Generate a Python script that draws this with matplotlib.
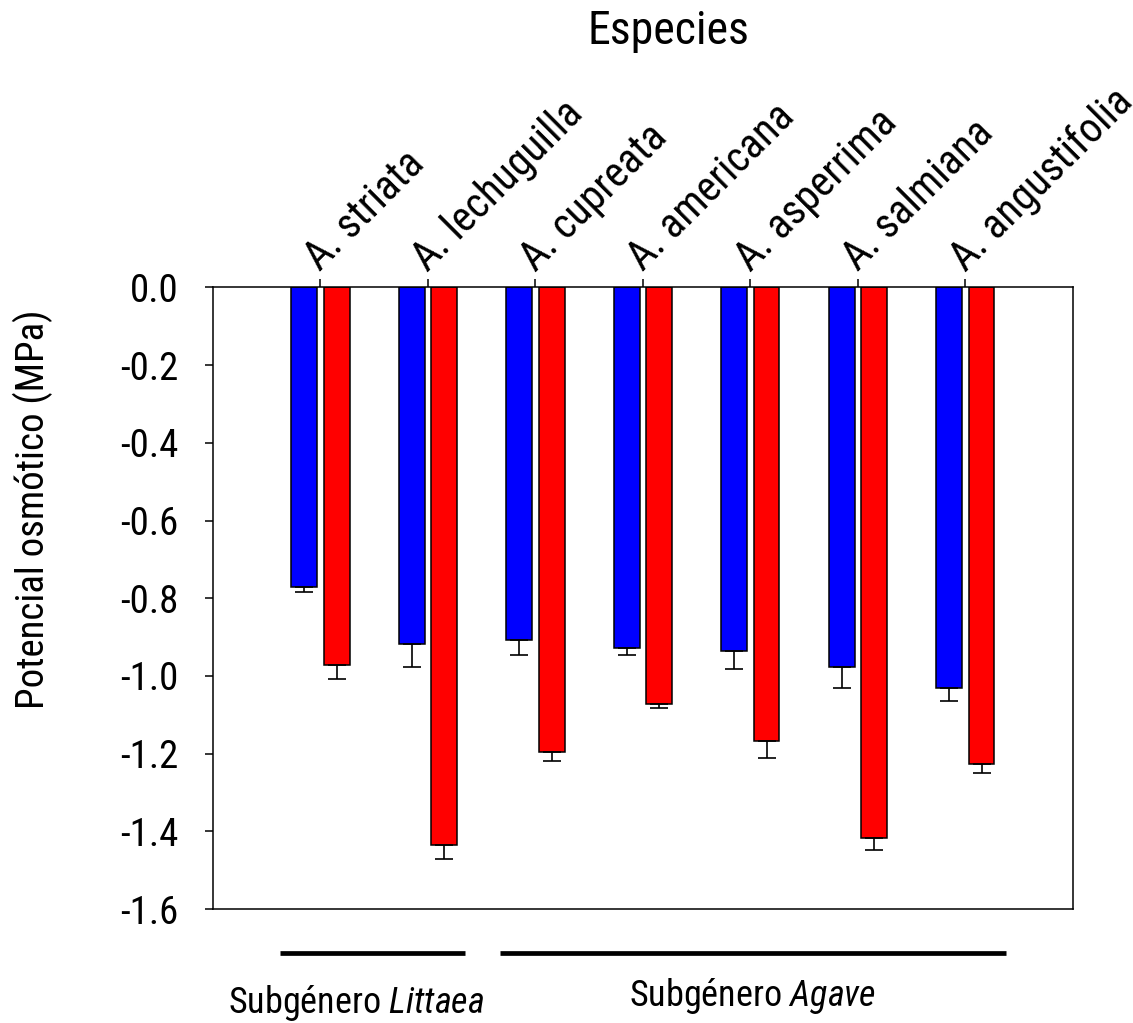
import matplotlib
matplotlib.use("Agg")
import matplotlib.pyplot as plt
from matplotlib import font_manager
import numpy as np

# the reference uses a narrow Arial-like face; take the first one installed
candidates = ['Liberation Sans Narrow', 'Arial Narrow', 'Roboto Condensed',
              'PT Sans Narrow', 'Archivo Narrow']
installed = {f.name for f in font_manager.fontManager.ttflist}
main_font = next((c for c in candidates if c in installed), 'Liberation Sans')
plt.rcParams['font.family'] = [main_font, 'Liberation Sans', 'DejaVu Sans']
plt.rcParams['mathtext.fontset'] = 'custom'
plt.rcParams['mathtext.rm'] = main_font
plt.rcParams['mathtext.it'] = main_font + ':italic'

species = ['A. striata', 'A. lechuguilla', 'A. cupreata', 'A. americana',
           'A. asperrima', 'A. salmiana', 'A. angustifolia']
blue_vals = [-0.770, -0.918, -0.908, -0.927, -0.935, -0.976, -1.031]
blue_err = [0.013, 0.058, 0.039, 0.019, 0.046, 0.055, 0.034]
red_vals = [-0.972, -1.435, -1.197, -1.071, -1.167, -1.418, -1.227]
red_err = [0.036, 0.036, 0.021, 0.011, 0.043, 0.031, 0.024]

yticks = [0.0, -0.2, -0.4, -0.6, -0.8, -1.0, -1.2, -1.4, -1.6]

WIDTH = 0.24
OFFSET = 0.15

fig = plt.figure(figsize=(11.33, 10.23), dpi=100)
ax = fig.add_axes([0.188, 0.1114, 0.759, 0.6076])

x = np.arange(len(species))
for vals, errs, color, sign in [(blue_vals, blue_err, 'blue', -1), (red_vals, red_err, 'red', 1)]:
    pos = x + sign * OFFSET
    ax.bar(pos, vals, width=WIDTH, color=color, edgecolor='black', linewidth=1.1, zorder=2)
    # one-sided (downward) error bars
    ax.errorbar(pos, vals, yerr=[errs, np.zeros(len(errs))], fmt='none', ecolor='black',
                elinewidth=1.2, capsize=6.2, capthick=1.2, zorder=3)

ax.set_xlim(-1, 7)
ax.set_ylim(-1.6, 0)
ax.set_yticks(yticks)
ax.set_yticklabels([f"{v:.1f}" for v in yticks])
ax.tick_params(axis='y', direction='out', length=6, width=1.1, labelsize=28, pad=19)

ax.xaxis.tick_top()
ax.set_xticks(x)
ax.set_xticklabels(species, rotation=45, ha='left', va='baseline', rotation_mode='anchor')
ax.tick_params(axis='x', direction='out', length=6, width=1.1, labelsize=30, pad=5)

for s in ax.spines.values():
    s.set_linewidth(1.1)

# y label and title
fig.text(33 / 1133, 1 - 509 / 1023, "Potencial osmótico (MPa)", rotation=90,
         ha='center', va='center', fontsize=28)
fig.text(668 / 1133, 1 - 31 / 1023, "Especies", ha='center', va='center', fontsize=33)

# subgenus bars under the axes
trans = ax.get_xaxis_transform()
ax.plot([-0.379, 1.348], [-0.0703, -0.0703], color='black', lw=3.4, transform=trans,
        clip_on=False, solid_capstyle='butt')
ax.plot([1.671, 6.38], [-0.0703, -0.0703], color='black', lw=3.4, transform=trans,
        clip_on=False, solid_capstyle='butt')
ax.text(0.332, -0.167, "Subgénero $\\it{Littaea}$", transform=trans, ha='center',
        va='baseline', fontsize=26)
ax.text(4.017, -0.156, "Subgénero $\\it{Agave}$", transform=trans, ha='center',
        va='baseline', fontsize=26)

fig.savefig("out.png", dpi=100)
